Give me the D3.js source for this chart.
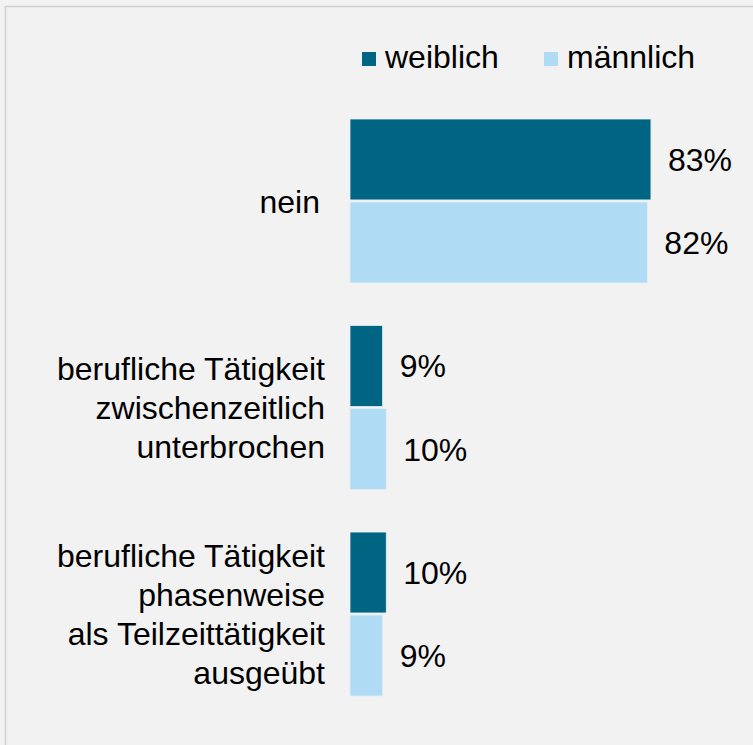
<!DOCTYPE html>
<html>
<head>
<meta charset="utf-8">
<script src="https://cdn.jsdelivr.net/npm/d3@7"></script>
<style>
  html, body { margin: 0; padding: 0; background: #f2f2f2; }
  svg { display: block; }
  text { font-family: "Liberation Sans", Arial, sans-serif; fill: #000; }
</style>
</head>
<body>
<div id="chart"></div>
<script>
// Data
const categories = [
    ["nein"],
    ["berufliche Tätigkeit", "zwischenzeitlich", "unterbrochen"],
    ["berufliche Tätigkeit", "phasenweise", "als Teilzeittätigkeit", "ausgeübt"]
];
const seriesNames = ["weiblich", "männlich"];
const weiblich = [83, 9, 10];
const maennlich = [82, 10, 9];
const colors = ["#006582", "#afdcf4"];

const W = 753, H = 745;
const fontSize = 32;

const svg = d3.select("#chart").append("svg")
    .attr("width", W)
    .attr("height", H);

// Frame
svg.append("rect")
    .attr("x", 5.5).attr("y", 6.5)
    .attr("width", W + 20).attr("height", H + 20)
    .attr("fill", "#f2f2f2")
    .attr("stroke", "#d0d0d0")
    .attr("stroke-width", 1.5);

const catKeys = categories.map((c, i) => "c" + i);

// Scales
const x = d3.scaleLinear().domain([0, 100]).range([350, 712.6]);
const y = d3.scaleBand().domain(catKeys).range([119, 696]).paddingInner(0.206);
const ySub = d3.scaleBand().domain(seriesNames).range([0, y.bandwidth()]).paddingInner(0.025);

const rows = categories.map((c, i) => ({
    key: catKeys[i],
    lines: c,
    values: [
        { series: "weiblich", value: weiblich[i] },
        { series: "männlich", value: maennlich[i] }
    ]
}));

const groups = svg.selectAll(".group")
    .data(rows)
    .enter()
    .append("g")
    .attr("class", "group")
    .attr("transform", d => `translate(0,${y(d.key)})`);

// Bars
groups.selectAll(".bar")
    .data(d => d.values)
    .enter()
    .append("rect")
    .attr("class", "bar")
    .attr("x", x(0))
    .attr("y", d => ySub(d.series))
    .attr("width", d => x(d.value) - x(0))
    .attr("height", ySub.bandwidth())
    .attr("fill", (d, i) => colors[i])
    .attr("stroke", "#e4eef2")
    .attr("stroke-width", 0.8);

// Value labels
groups.selectAll(".bar-label")
    .data(d => d.values)
    .enter()
    .append("text")
    .attr("class", "bar-label")
    .attr("x", d => x(d.value) + 17)
    .attr("y", d => ySub(d.series) + ySub.bandwidth() / 2)
    .attr("dy", "0.36em")
    .style("font-size", fontSize + "px")
    .text(d => d.value + "%");

// Category labels (multi-line, right-aligned)
const lineH = 38.8;
groups.append("text")
    .attr("class", "cat-label")
    .attr("text-anchor", "end")
    .style("font-size", fontSize + "px")
    .each(function(d) {
        const t = d3.select(this);
        const n = d.lines.length;
        d.lines.forEach((line, j) => {
            t.append("tspan")
                .attr("x", d.lines.length === 1 ? 320 : 325)
                .attr("y", y.bandwidth() / 2 + (j - (n - 1) / 2) * lineH)
                .attr("dy", "0.36em")
                .text(line);
        });
    });

// Legend
const legendX = [362, 544];
const legend = svg.selectAll(".legend")
    .data(seriesNames)
    .enter()
    .append("g")
    .attr("class", "legend")
    .attr("transform", (d, i) => `translate(${legendX[i]},52)`);

legend.append("rect")
    .attr("width", 14)
    .attr("height", 14)
    .attr("fill", (d, i) => colors[i]);

legend.append("text")
    .attr("x", 23)
    .attr("y", 16)
    .style("font-size", fontSize + "px")
    .text(d => d);
</script>
</body>
</html>
